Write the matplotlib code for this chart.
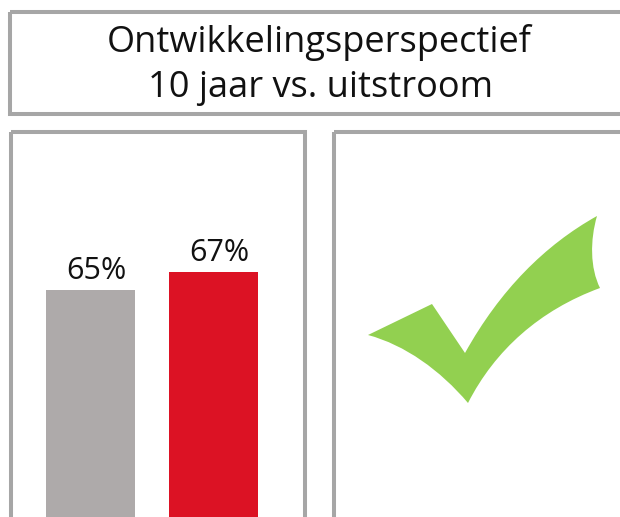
import numpy as np
import matplotlib
matplotlib.use("Agg")
import matplotlib.pyplot as plt
from matplotlib.patches import Rectangle, PathPatch
from matplotlib.path import Path

# data
categories = ["10 jaar", "uitstroom"]
values = [65, 67]
labels = ["65%", "67%"]
bar_colors = ["#AEAAAA", "#DC1224"]
title_lines = ["Ontwikkelingsperspectief", "10 jaar vs. uitstroom"]

W, H = 620, 517
fig = plt.figure(figsize=(W / 100, H / 100), dpi=100)
fig.patch.set_facecolor("white")

# pixel-space background axes for frames + check icon
bg = fig.add_axes([0, 0, 1, 1])
bg.set_xlim(0, W)
bg.set_ylim(H, 0)
bg.axis("off")

border = "#A6A6A6"
lw = 2.9
bg.add_patch(Rectangle((10, 11.5), 640, 102, fill=False, ec=border, lw=lw))
bg.add_patch(Rectangle((10.5, 131.5), 294.5, 420, fill=False, ec=border, lw=lw))
bg.add_patch(Rectangle((334, 131.5), 320, 420, fill=False, ec=border, lw=lw))

bg.text(319, 52, title_lines[0], ha="center", va="baseline", fontsize=26,
        family="Open Sans", color="#111111")
bg.text(320, 97, title_lines[1], ha="center", va="baseline", fontsize=26,
        family="Open Sans", color="#111111")

# check mark icon (pixel coords)
M, L, C = Path.MOVETO, Path.LINETO, Path.CURVE4
verts = [
    (368, 335), (432, 304), (465, 353),
    (500, 290), (545, 245), (597, 216),
    (590, 240), (590, 268), (600, 288),
    (540, 310), (495, 350), (468, 403),
    (440, 370), (405, 345), (368, 335),
    (368, 335),
]
codes = [M, L, L, C, C, C, C, C, C, C, C, C, C, C, C, Path.CLOSEPOLY]
bg.add_patch(PathPatch(Path(verts, codes), fc="#92D050", ec="none"))

# bar chart
ax = fig.add_axes([14 / W, 0, (302 - 14) / W, (517 - 135) / H])
x = np.arange(len(categories))
ax.bar(x, values, width=0.72, color=bar_colors)
for xi, v, lab in zip(x, values, labels):
    ax.annotate(lab, (xi, v), xytext=(4.3, 8), textcoords="offset points",
                ha="center", va="baseline", fontsize=22, family="Open Sans",
                color="#111111")
ax.set_xlim(-0.62, 1.72)
ax.set_ylim(39.8, 82.2)
ax.axis("off")

fig.savefig("out.png", dpi=100, facecolor="white")
